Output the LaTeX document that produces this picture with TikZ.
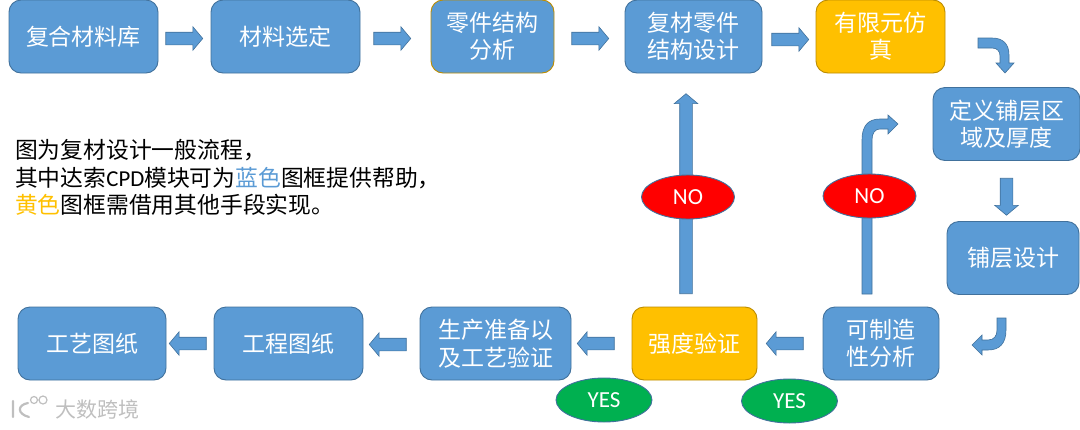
\documentclass[tikz,border=0pt]{standalone}
\usepackage{fontspec}
\setmainfont{Carlito}
\newfontfamily\cjk{Noto Sans CJK SC}
\usetikzlibrary{calc,shapes.geometric,shapes.arrows}

\definecolor{boxblue}{HTML}{5B9BD5}
\definecolor{boxline}{HTML}{41719C}
\definecolor{boxgold}{HTML}{FFC000}
\definecolor{goldline}{HTML}{BC8C00}
\definecolor{yesgreen}{HTML}{00B050}

\tikzset{
    flowbox/.style={draw=boxline, fill=boxblue, line width=0.9pt, rounded corners=12pt, inner sep=0pt, align=center, text=white, font=\fontsize{23}{27.5}\selectfont\cjk},
    simbox/.style={flowbox, draw=goldline, fill=boxgold},
    flowarrow/.style={draw=boxline, fill=boxblue, line width=0.6pt, single arrow, single arrow head extend=5.5pt, single arrow head indent=0pt, single arrow tip angle=100, inner sep=6pt, minimum height=37pt, anchor=tail},
    flowbent/.style={draw=boxline, fill=boxblue, line width=0.6pt},
    nomark/.style={ellipse, draw=boxline, fill=red, line width=0.9pt, inner sep=0pt, minimum width=93pt, minimum height=44pt, text=white, font=\fontsize{23}{26}\selectfont},
    yesmark/.style={nomark, fill=yesgreen, minimum width=96pt}
}

\begin{document}
\begin{tikzpicture}[x=1pt,y=-1pt]
    \useasboundingbox (0,0) rectangle (1080,429);

    % Top row of boxes
    \node[flowbox, minimum width=149pt, minimum height=73pt] (lib) at (83.5,36.5) {复合材料库};
    \node[flowbox, minimum width=149pt, minimum height=73pt] (sel) at (285.5,36.5) {材料选定};
    \node[flowbox, draw=goldline, minimum width=123pt, minimum height=73pt] (part) at (492.5,36.5) {零件结构\\分析};
    \node[flowbox, minimum width=137pt, minimum height=73pt] (des) at (693.5,36.5) {复材零件\\结构设计};
    \node[simbox, minimum width=129pt, minimum height=73pt] (fem) at (880.5,36.5) {有限元仿\\真};

    % Right column
    \node[flowbox, minimum width=147pt, minimum height=73pt] (zone) at (1006.5,124) {定义铺层区\\域及厚度};
    \node[flowbox, minimum width=132pt, minimum height=73pt] (ply) at (1013,258) {铺层设计};

    % Bottom row of boxes
    \node[flowbox, minimum width=116pt, minimum height=73pt] (mfg) at (881,343.5) {可制造\\性分析};
    \node[simbox, minimum width=125pt, minimum height=73pt] (str) at (694.5,343.5) {强度验证};
    \node[flowbox, minimum width=151pt, minimum height=73pt] (prep) at (495.5,343.5) {生产准备以\\及工艺验证};
    \node[flowbox, minimum width=149pt, minimum height=73pt] (eng) at (288.5,343.5) {工程图纸};
    \node[flowbox, minimum width=148pt, minimum height=73pt] (proc) at (92,343.5) {工艺图纸};

    % Straight block arrows between the boxes
    \node[flowarrow] (a1) at ($(lib.east)+(7,2)$) {};
    \node[flowarrow] (a2) at ($(sel.east)+(13,2)$) {};
    \node[flowarrow] (a3) at ($(part.east)+(17,2)$) {};
    \node[flowarrow] (a4) at ($(des.east)+(9,3)$) {};
    \node[flowarrow, shape border rotate=270] (a5) at ($(zone.south)+(0,17)$) {};
    \node[flowarrow, shape border rotate=180] (a6) at ($(mfg.west)+(-19,0)$) {};
    \node[flowarrow, shape border rotate=180] (a7) at ($(str.west)+(-17,0)$) {};
    \node[flowarrow, shape border rotate=180] (a8) at ($(prep.west)+(-13,1)$) {};
    \node[flowarrow, shape border rotate=180] (a9) at ($(eng.west)+(-7,0)$) {};
    \node[flowarrow, shape border rotate=90, minimum height=200pt] (back1) at (686,294) {};

    % Bent block arrows
    \draw[flowbent] (978,38) -- (992,38) .. controls (1003,38) and (1009,44) .. (1009,55) -- (1009,63) -- (1014,63) -- (1005,73) -- (996,63) -- (1000,63) -- (1000,56) .. controls (1000,51) and (997,48) .. (992,48) -- (978,48) -- cycle;
    \draw[flowbent] (862,294) -- (862,140) .. controls (862,126) and (868,119) .. (880,119) -- (888,119) -- (888,115) -- (898,124) -- (888,134) -- (888,129) -- (880,129) .. controls (875,129) and (872,133) .. (872,140) -- (872,294) -- cycle;
    \draw[flowbent] (1006,318) -- (1006,330) .. controls (1006,343) and (1000,350) .. (988,350) -- (982,350) -- (982,355) -- (972,345) -- (982,335) -- (982,340) -- (988,340) .. controls (994,340) and (997,336) .. (997,330) -- (997,318) -- cycle;

    % Decision marks
    \node[nomark] (no1) at (688,197) {NO};
    \node[nomark] (no2) at (869.5,196) {NO};
    \node[yesmark] (yes1) at (604,400) {YES};
    \node[yesmark] (yes2) at (789.5,401) {YES};

    % Note on the left
    \node[anchor=west, inner sep=0pt, font=\fontsize{22.8}{27.5}\selectfont\cjk, align=left] (note) at (15,177.5) {图为复材设计一般流程，\\其中达索{\normalfont CPD}模块可为\textcolor{boxblue}{蓝色}图框提供帮助，\\\textcolor{boxgold}{黄色}图框需借用其他手段实现。};

    % Watermark
    \node[anchor=west, inner sep=0pt, text=black!25, font=\fontsize{21}{24}\selectfont\cjk] (mark) at (55,409) {大数跨境};
    \draw[black!25, line width=2.2pt, line cap=round] (13,401) -- (13,417) (28,403) .. controls (17,405) and (17,414) .. (29,417);
    \draw[black!25, line width=1.2pt] (34,400) circle (3.5pt) (43,400) circle (4pt);
\end{tikzpicture}
\end{document}
